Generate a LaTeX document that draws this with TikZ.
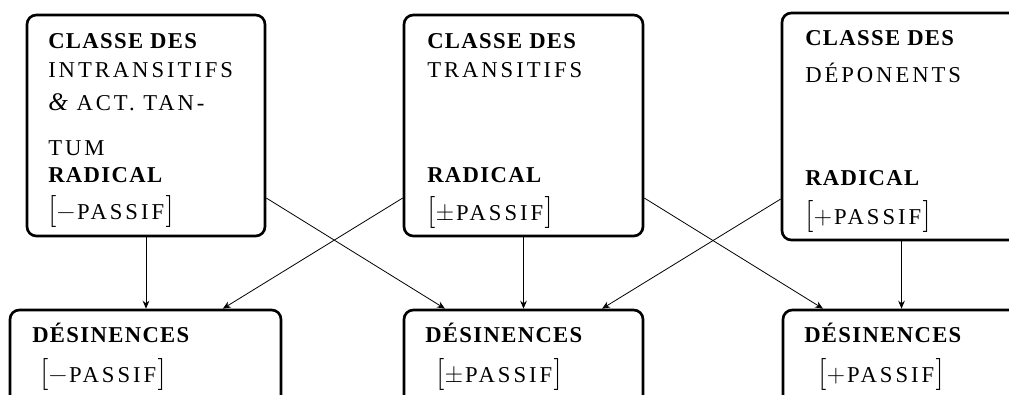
\documentclass[tikz,border=0pt]{standalone}
\usepackage{fontspec}
\setmainfont{Liberation Serif}
\newfontfamily\capsf[LetterSpace=13]{Liberation Serif}
\newfontfamily\capsbf[LetterSpace=6]{Liberation Serif Bold}
\newfontfamily\plainf{Latin Modern Roman}
\newfontfamily\ampf{Liberation Serif Italic}
\newcommand\bigbr[1]{{\plainf\fontsize{24}{24}\selectfont #1}}
\newcommand\sgn[1]{{\plainf\fontsize{19}{19}\selectfont\kern0.5pt #1\kern1.5pt}}
\newcommand\pas[1]{\bigbr{[}\sgn{#1}PASSIF\kern1pt\bigbr{]}}
\newcommand\amp{{\ampf\fontsize{19}{19}\selectfont\&}}
\newcommand\bl[1]{{\capsbf #1}}
\usetikzlibrary{arrows.meta}
\begin{document}
\begin{tikzpicture}[x=0.75pt,y=-0.75pt,
  box/.style={draw,rectangle,line width=2pt,rounded corners=7pt,inner sep=0pt},
  lbl/.style={anchor=base west,inner sep=0pt,font=\capsf\fontsize{17}{19}\selectfont},
  conn/.style={-{Stealth[length=6pt,width=5pt,inset=2pt]},line width=0.6pt}]
\useasboundingbox (0,0) rectangle (1009,394);
\clip (0,0) rectangle (1009,394);
% top boxes
\node[box,minimum width=178.5pt,minimum height=165.75pt] (b1) at (146,125.5) {};
\node[box,minimum width=179.25pt,minimum height=165.75pt] (b2) at (523.5,125.5) {};
\node[box,minimum width=179.25pt,minimum height=170.25pt] (b3) at (901.5,126.5) {};
% bottom boxes
\node[box,minimum width=203.25pt,minimum height=71.25pt] (b4) at (145.5,357.5) {};
\node[box,minimum width=179.25pt,minimum height=71.25pt] (b5) at (523.5,357.5) {};
\node[box,minimum width=179.25pt,minimum height=71.25pt] (b6) at (902.5,357.5) {};
% texts box 1
\node[lbl] (t1a) at (48,48) {\bl{CLASSE DES}};
\node[lbl] (t1b) at (48,77) {INTRANSITIFS};
\node[lbl] (t1c) at (48,110) {\amp\ ACT. TAN-};
\node[lbl] (t1d) at (48,155) {TUM};
\node[lbl] (t1e) at (48,182) {\bl{RADICAL}};
\node[lbl] (t1f) at (48,219) {\pas{−}};
% texts box 2
\node[lbl] (t2a) at (427,48) {\bl{CLASSE DES}};
\node[lbl] (t2b) at (427,77) {TRANSITIFS};
\node[lbl] (t2e) at (427,182) {\bl{RADICAL}};
\node[lbl] (t2f) at (427,220) {\pas{±}};
% texts box 3
\node[lbl] (t3a) at (805,45) {\bl{CLASSE DES}};
\node[lbl] (t3b) at (805,82) {DÉPONENTS};
\node[lbl] (t3e) at (805,185) {\bl{RADICAL}};
\node[lbl] (t3f) at (805,224) {\pas{+}};
% bottom texts
\node[lbl] (t4a) at (32,342) {\bl{DÉSINENCES}};
\node[lbl] (t4b) at (40,382) {\pas{−}};
\node[lbl] (t5a) at (425,342) {\bl{DÉSINENCES}};
\node[lbl] (t5b) at (436,382) {\pas{±}};
\node[lbl] (t6a) at (804,342) {\bl{DÉSINENCES}};
\node[lbl] (t6b) at (818,382) {\pas{+}};
% connectors
\draw[conn] (b1.south) -- (b1.south |- b4.north);
\draw[conn] ([yshift=-54.4pt]b2.west) -- ([xshift=58pt]b4.north);
\draw[conn] ([yshift=-54.4pt]b1.east) -- ([xshift=-58.9pt]b5.north);
\draw[conn] (b2.south) -- (b5.north);
\draw[conn] ([yshift=-54.4pt]b3.west) -- ([xshift=58.9pt]b5.north);
\draw[conn] ([yshift=-54.4pt]b2.east) -- ([xshift=-59.6pt]b6.north);
\draw[conn] (b3.south) -- (b3.south |- b6.north);
\end{tikzpicture}
\end{document}
